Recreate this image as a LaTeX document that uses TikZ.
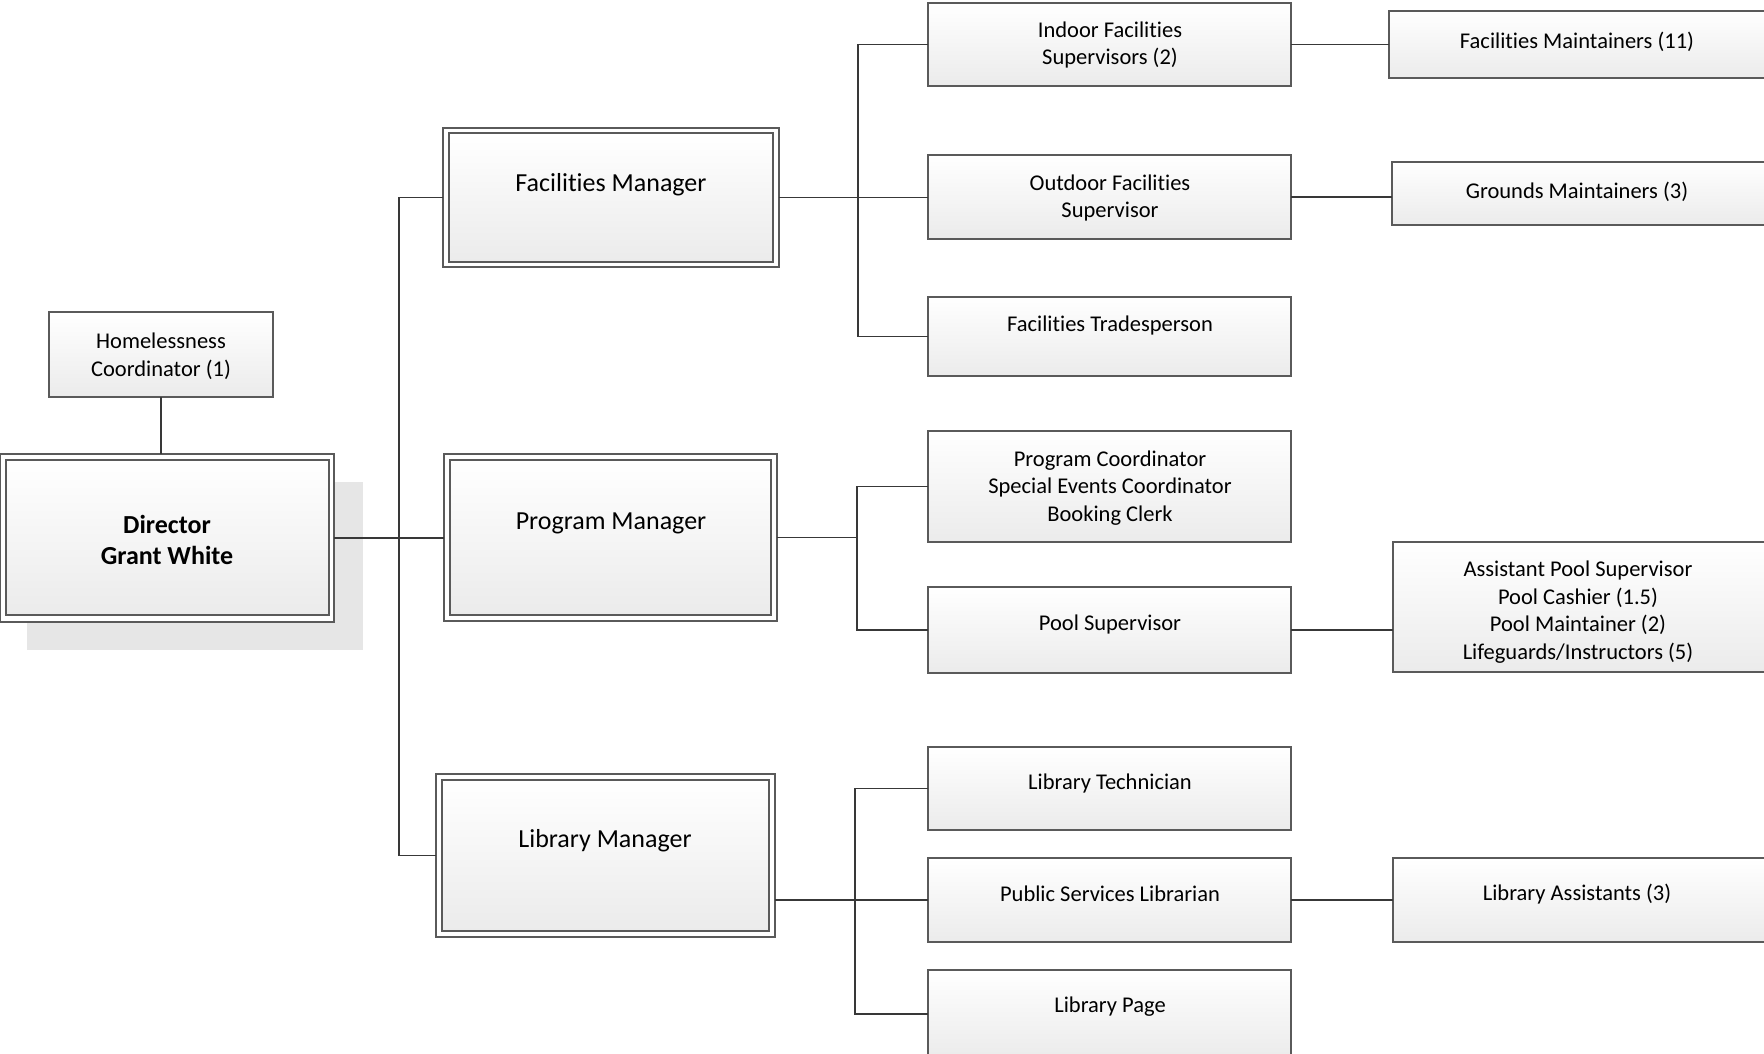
\documentclass[tikz,border=0pt]{standalone}
\usepackage{fontspec}
\setmainfont{Carlito}[Ligatures=NoCommon]
\usetikzlibrary{fit}
\definecolor{bordc}{HTML}{5A5A5A}
\definecolor{linec}{HTML}{383838}
\definecolor{shadc}{HTML}{E6E6E6}
\definecolor{botc}{HTML}{EBEBEB}
\tikzset{
  box/.style={draw=bordc, line width=1.3pt, top color=white, bottom color=botc, inner sep=0pt, outer sep=0pt},
  obox/.style={draw=bordc, line width=1.3pt, fill=white, inner sep=0pt, outer sep=0pt},
  shadowbox/.style={fill=shadc, inner sep=0pt, outer sep=0pt},
  txt/.style={font=\fontsize{22.5}{27.5}\selectfont, align=center, inner sep=0pt, text=black, yshift=-2pt},
  mtxt/.style={font=\fontsize{26}{31}\selectfont, align=center, inner sep=0pt, text=black, yshift=-1.5pt},
  conn/.style={draw=linec, line width=1.6pt},
}
\begin{document}
\begin{tikzpicture}[x=1pt, y=-1pt]
\useasboundingbox (0,0) rectangle (1764,1053);
\clip (0,0) rectangle (1764,1053);
\fill[white] (0,0) rectangle (1764,1053);

% bus coordinates
\coordinate (bus1) at (399,0);
\coordinate (bus2) at (858,0);
\coordinate (bus3) at (857,0);
\coordinate (bus4) at (855,0);

% Director
\node[shadowbox, fit={(27,482) (363,650)}] (dirsh) {};
\node[obox, fit={(0.7,454) (334,622)}] (dir) {};
\node[box, fit={(6,460) (329,615)}] (dirin) {};
\node[mtxt] (dirt) at (167,538) {\textbf{Director}\\\textbf{Grant White}};

% Homelessness
\node[box, fit={(49,312) (273,397)}] (home) {};
\node[txt] (homet) at (161,354) {Homelessness\\Coordinator (1)};

% Managers
\node[obox, fit={(443,128) (779,267)}] (fm) {};
\node[box, fit={(449,133) (773,262)}] (fmin) {};
\node[mtxt] (fmt) at (611,183) {Facilities Manager};

\node[obox, fit={(444,454) (777,621)}] (pm) {};
\node[box, fit={(450,460) (771,615)}] (pmin) {};
\node[mtxt] (pmt) at (611,522) {Program Manager};

\node[obox, fit={(436,774) (775,937)}] (lm) {};
\node[box, fit={(442,780) (769,931)}] (lmin) {};
\node[mtxt] (lmt) at (605,839) {Library Manager};

% Right column
\node[box, fit={(928,3) (1291,86)}] (indoor) {};
\node[txt] (indoort) at (1110,43) {Indoor Facilities\\Supervisors (2)};
\node[box, fit={(928,155) (1291,239)}] (outdoor) {};
\node[txt] (outdoort) at (1110,196) {Outdoor Facilities\\Supervisor};
\node[box, fit={(928,297) (1291,376)}] (trades) {};
\node[txt] (tradest) at (1110,323) {Facilities Tradesperson};

\node[box, fit={(928,431) (1291,542)}] (pc) {};
\node[txt] (pct) at (1110,486) {Program Coordinator\\Special Events Coordinator\\Booking Clerk};
\node[box, fit={(928,587) (1291,673)}] (ps) {};
\node[txt] (pst) at (1110,622) {Pool Supervisor};

\node[box, fit={(928,747) (1291,830)}] (lt) {};
\node[txt] (ltt) at (1110,781) {Library Technician};
\node[box, fit={(928,858) (1291,942)}] (psl) {};
\node[txt] (pslt) at (1110,892) {Public Services Librarian};
\node[box, fit={(928,970) (1291,1058)}] (lp) {};
\node[txt] (lpt) at (1110,1005) {Library Page};

% Far right column
\node[box, fit={(1389,11) (1772,78)}] (fmaint) {};
\node[txt] (fmaintt) at (1577,40) {Facilities Maintainers (11)};
\node[box, fit={(1392,162) (1772,225)}] (grounds) {};
\node[txt] (groundst) at (1577,190) {Grounds Maintainers (3)};
\node[box, fit={(1393,542) (1772,672)}] (pool) {};
\node[txt] (poolt) at (1578,610) {Assistant Pool Supervisor\\Pool Cashier (1.5)\\Pool Maintainer (2)\\Lifeguards/Instructors (5)};
\node[box, fit={(1393,858) (1772,942)}] (la) {};
\node[txt] (lat) at (1577,892) {Library Assistants (3)};

% Connectors
\draw[conn] (home.south) -- (dir.north -| home.south);
\draw[conn] (dir.east) -- (pm.west |- dir.east);
\draw[conn] (fm.west) -- (fm.west -| bus1) |- (lm.west);

\draw[conn] (fm.east) -- (outdoor.west |- fm.east);
\draw[conn] (indoor.west) -- (indoor.west -| bus2) |- (trades.west);

\draw[conn] (pm.east) -- (pm.east -| bus3);
\draw[conn] (pc.west) -- (pc.west -| bus3) |- (ps.west);

\draw[conn] (lm.east |- psl.west) -- (psl.west);
\draw[conn] (lt.west) -- (lt.west -| bus4) |- (lp.west);

\draw[conn] (indoor.east) -- (fmaint.west |- indoor.east);
\draw[conn] (outdoor.east) -- (grounds.west |- outdoor.east);
\draw[conn] (ps.east) -- (pool.west |- ps.east);
\draw[conn] (psl.east) -- (la.west);
\end{tikzpicture}
\end{document}
